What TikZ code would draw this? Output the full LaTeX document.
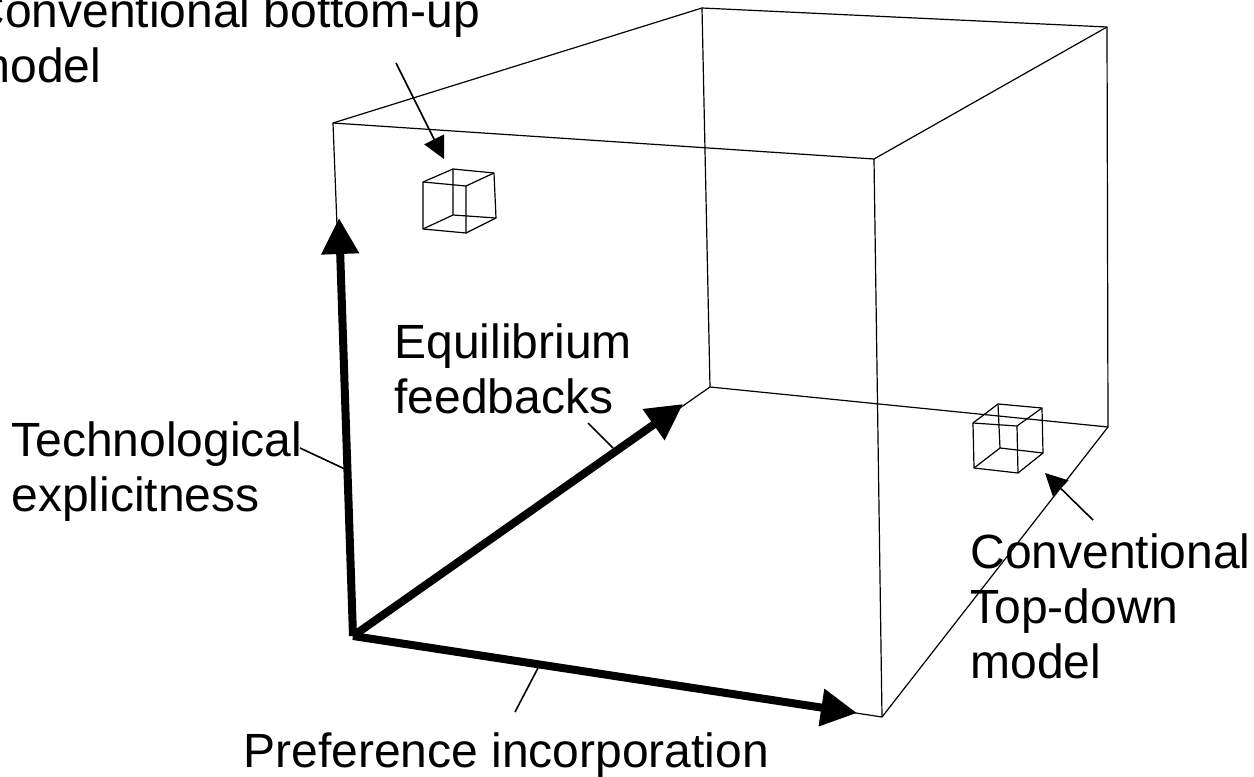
\documentclass[tikz,border=0pt]{standalone}
\usepackage{fontspec}
\setmainfont{Liberation Sans}
\usetikzlibrary{arrows.meta}
\begin{document}
\begin{tikzpicture}[x=0.5pt,y=-0.5pt,
  edge/.style={line width=0.6pt, line join=round},
  axisarrow/.style={line width=4pt, line join=miter, -{Triangle[length=18pt,width=18pt]}},
  pointer/.style={line width=0.8pt, -{Triangle[length=11pt,width=11pt]}},
  leader/.style={line width=0.8pt},
  lbl/.style={inner sep=0pt, anchor=base west, align=left,
    font=\fontsize{24}{27.5}\selectfont}]
\useasboundingbox (0,0) rectangle (1254,777);
\clip (0,0) rectangle (1254,777);

% corners of the large box
\coordinate (F1) at (333,123);
\coordinate (F2) at (874,159);
\coordinate (F3) at (882,717);
\coordinate (O)  at (353,636);
\coordinate (B1) at (702,8);
\coordinate (B2) at (1107,27);
\coordinate (B3) at (1108,427);
\coordinate (B4) at (710,387);

\draw[edge] (F1) -- (F2) -- (F3) -- (O) -- cycle;
\draw[edge] (B1) -- (B2) -- (B3) -- (B4) -- cycle;
\draw[edge] (F1) -- (B1);
\draw[edge] (F2) -- (B2);
\draw[edge] (F3) -- (B3);
\draw[edge] (O)  -- (B4);

% small wireframe cube: bottom-up model
\coordinate (a1) at (423,182); \coordinate (a2) at (466,186);
\coordinate (a3) at (466,233); \coordinate (a4) at (423,229);
\coordinate (a5) at (453,169); \coordinate (a6) at (494,173);
\coordinate (a7) at (496,218); \coordinate (a8) at (453,215);
\draw[edge] (a1) -- (a2) -- (a3) -- (a4) -- cycle;
\draw[edge] (a5) -- (a6) -- (a7) -- (a8) -- cycle;
\draw[edge] (a1) -- (a5) (a2) -- (a6) (a3) -- (a7) (a4) -- (a8);

% small wireframe cube: top-down model
\coordinate (c1) at (973,423); \coordinate (c2) at (1017,426);
\coordinate (c3) at (1018,473); \coordinate (c4) at (974,468);
\coordinate (c5) at (998,404); \coordinate (c6) at (1042,408);
\coordinate (c7) at (1043,453); \coordinate (c8) at (1000,448);
\draw[edge] (c1) -- (c2) -- (c3) -- (c4) -- cycle;
\draw[edge] (c5) -- (c6) -- (c7) -- (c8) -- cycle;
\draw[edge] (c1) -- (c5) (c2) -- (c6) (c3) -- (c7) (c4) -- (c8);

% the three axes
\coordinate (tipY) at (339,218);
\coordinate (tipZ) at (683,404);
\coordinate (tipX) at (857,713);
\draw[axisarrow] (O) -- (tipY);
\draw[axisarrow] (O) -- (tipZ);
\draw[axisarrow] (O) -- (tipX);

% labels (anchored at the baseline of their last line)
\node[lbl] (bu) at (-30,82) {Conventional bottom-up\\model};
\node[lbl] (tech) at (11,511) {Technological\\explicitness};
\node[lbl] (eq) at (394,413) {Equilibrium\\feedbacks};
\node[lbl] (td) at (970,678) {Conventional\\Top-down\\model};
\node[lbl] (pref) at (243,767) {Preference incorporation};

% leaders and pointers
\coordinate (buS) at (396,63);   \coordinate (buE) at (444,159);
\coordinate (tdS) at (1093,520); \coordinate (tdE) at (1045,473);
\coordinate (teS) at (300,448);  \coordinate (teE) at (347,470);
\coordinate (eqS) at (588,423);  \coordinate (eqE) at (613,448);
\coordinate (prS) at (515,712);  \coordinate (prE) at (538,668);
\draw[pointer] (buS) -- (buE);
\draw[pointer] (tdS) -- (tdE);
\draw[leader] (teS) -- (teE);
\draw[leader] (eqS) -- (eqE);
\draw[leader] (prS) -- (prE);
\end{tikzpicture}
\end{document}
